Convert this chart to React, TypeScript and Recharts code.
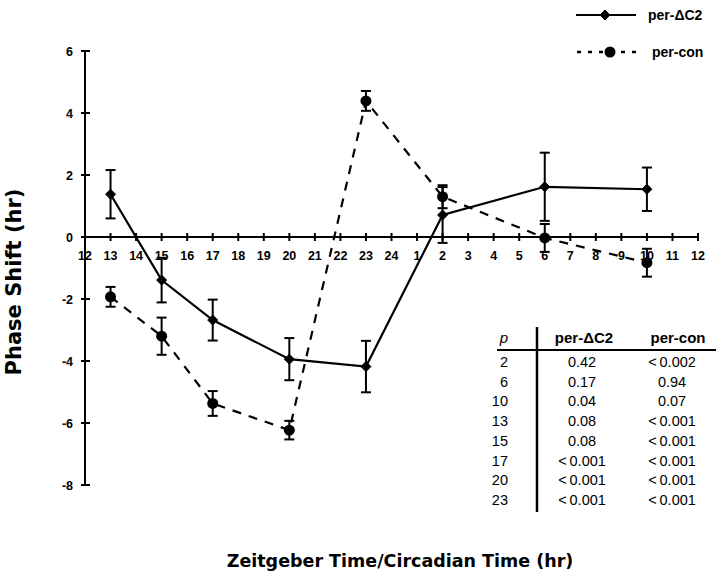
import React from 'react';
import { LineChart, Line, XAxis, YAxis, ErrorBar, ReferenceLine, ReferenceDot, Legend, Label } from 'recharts';

// ---- data ----
const timeLabels = ['13', '15', '17', '20', '23', '2', '6', '10'];
const timePositions = [1, 3, 5, 8, 11, 14, 18, 22];
const deltaC2 = [1.38, -1.39, -2.68, -3.94, -4.18, 0.71, 1.62, 1.54];
const deltaC2Err = [0.78, 0.72, 0.66, 0.68, 0.83, 0.9, 1.1, 0.7];
const perCon = [-1.93, -3.2, -5.37, -6.23, 4.39, 1.3, -0.03, -0.83];
const perConErr = [0.32, 0.6, 0.4, 0.3, 0.32, 0.37, 0.45, 0.45];

const xTickLabels = ['12', '13', '14', '15', '16', '17', '18', '19', '20', '21', '22', '23', '24', '1', '2', '3', '4', '5', '6', '7', '8', '9', '10', '11', '12'];
const yTicks = [-8, -6, -4, -2, 0, 2, 4, 6];

const seriesNames = ['per-\u0394C2', 'per-con'];

const tableTimes = ['2', '6', '10', '13', '15', '17', '20', '23'];
const LT = '<\u20090.001';
const tablePDelta = ['0.42', '0.17', '0.04', '0.08', '0.08', LT, LT, LT];
const tablePCon = ['<\u20090.002', '0.94', '0.07', LT, LT, LT, LT, LT];

const data = timePositions.map((pos, i) => ({
  pos,
  label: timeLabels[i],
  d: deltaC2[i],
  dErr: deltaC2Err[i],
  c: perCon[i],
  cErr: perConErr[i],
}));

const TICK_FONT = '"Liberation Sans", Arial, sans-serif';
const TITLE_FONT = '"DejaVu Sans", sans-serif';

const Diamond = ({ cx, cy, s = 5 }: any) => (
  <polygon points={`${cx},${cy - s} ${cx + s},${cy} ${cx},${cy + s} ${cx - s},${cy}`} fill="#000" stroke="#000" strokeWidth={1} />
);

const YTick = ({ x, y, payload }: any) => (
  <g>
    <line x1={x - 4} x2={x + 5} y1={y} y2={y} stroke="#000" strokeWidth={2} />
    <text x={x - 12} y={y} dy={4.5} textAnchor="end" fontFamily={TICK_FONT} fontWeight="bold" fontSize={12.5} fill="#000">
      {payload.value}
    </text>
  </g>
);

const XTickMark = ({ cx, cy, label }: any) => (
  <g>
    <line x1={cx} x2={cx} y1={cy - 4} y2={cy + 4} stroke="#000" strokeWidth={2} />
    <text x={cx} y={cy + 23} textAnchor="middle" fontFamily={TICK_FONT} fontWeight="bold" fontSize={12.5} fill="#000">
      {label}
    </text>
  </g>
);

const LegendContent = () => (
  <svg width={720} height={70} style={{ display: 'block' }}>
    <line x1={576} x2={636} y1={15} y2={15} stroke="#000" strokeWidth={2} />
    <Diamond cx={605} cy={15} s={5} />
    <text x={648} y={20} fontFamily={TICK_FONT} fontWeight="bold" fontSize={14} fill="#000">{seriesNames[0]}</text>
    <line x1={577} x2={642} y1={52} y2={52} stroke="#000" strokeWidth={2.5} strokeDasharray="4 7" />
    <circle cx={610} cy={52} r={5.5} fill="#000" />
    <text x={652} y={57} fontFamily={TICK_FONT} fontWeight="bold" fontSize={14} fill="#000">{seriesNames[1]}</text>
  </svg>
);

const PTable = () => {
  const rowY = (i: number) => 367 + i * 19.7;
  return (
    <svg width={720} height={581} style={{ position: 'absolute', left: 0, top: 0, pointerEvents: 'none' }}>
      <text x={508} y={343} textAnchor="end" fontFamily={TICK_FONT} fontStyle="italic" fontSize={15} fill="#000">p</text>
      <text x={584} y={343} textAnchor="middle" fontFamily={TICK_FONT} fontWeight="bold" fontSize={15} fill="#000">{seriesNames[0]}</text>
      <text x={678} y={343} textAnchor="middle" fontFamily={TICK_FONT} fontWeight="bold" fontSize={15} fill="#000">{seriesNames[1]}</text>
      <line x1={537} x2={537} y1={327} y2={512} stroke="#000" strokeWidth={2.5} />
      <line x1={497} x2={716} y1={350} y2={350} stroke="#000" strokeWidth={2} />
      {tableTimes.map((t, i) => (
        <g key={t}>
          <text x={508} y={rowY(i)} textAnchor="end" fontFamily={TICK_FONT} fontSize={14.5} fill="#000">{t}</text>
          <text x={582} y={rowY(i)} textAnchor="middle" fontFamily={TICK_FONT} fontSize={14.5} fill="#000">{tablePDelta[i]}</text>
          <text x={672} y={rowY(i)} textAnchor="middle" fontFamily={TICK_FONT} fontSize={14.5} fill="#000">{tablePCon[i]}</text>
        </g>
      ))}
    </svg>
  );
};

const YTitle = () => (
  <text transform="translate(21,282) rotate(-90)" textAnchor="middle" fontFamily={TITLE_FONT} fontWeight="bold" fontSize={21} fill="#000">
    Phase Shift (hr)
  </text>
);

const XTitle = () => (
  <text x={400} y={567} textAnchor="middle" fontFamily={TITLE_FONT} fontWeight="bold" fontSize={17.5} fill="#000">
    Zeitgeber Time/Circadian Time (hr)
  </text>
);

export default function App() {
  return (
    <div style={{ position: 'absolute', left: 0, top: 0, width: 720, height: 581, background: '#fff' }}>
      <LineChart width={720} height={581} data={data} margin={{ top: 51, right: 22, bottom: 0, left: 0 }}>
        <XAxis
          type="number"
          dataKey="pos"
          domain={[0, 24]}
          axisLine={false}
          tick={false}
          tickLine={false}
          height={96}
          label={<Label content={() => <XTitle />} />}
        />
        <YAxis
          type="number"
          domain={[-8, 6]}
          ticks={yTicks}
          width={85}
          tickSize={0}
          tickMargin={0}
          tickLine={false}
          axisLine={{ stroke: '#000', strokeWidth: 2 }}
          tick={<YTick />}
          label={<Label content={() => <YTitle />} />}
        />
        <ReferenceLine y={0} stroke="#000" strokeWidth={2} />
        {xTickLabels.map((lab, i) => (
          <ReferenceDot
            key={`xt${i}`}
            x={i}
            y={0}
            r={1}
            ifOverflow="visible"
            shape={(p: any) => <XTickMark cx={p.cx} cy={p.cy} label={lab} />}
          />
        ))}
        <Legend
          layout="vertical"
          align="center"
          verticalAlign="middle"
          content={<LegendContent />}
          wrapperStyle={{ position: 'absolute', left: 0, top: 0, width: 720, height: 70 }}
        />
        <Line
          type="linear"
          dataKey="d"
          name={seriesNames[0]}
          stroke="#000"
          strokeWidth={2.2}
          isAnimationActive={false}
          dot={(p: any) => <Diamond key={`d${p.index}`} cx={p.cx} cy={p.cy} s={5} />}
          activeDot={false}
        >
          <ErrorBar dataKey="dErr" width={5} stroke="#000" strokeWidth={2} direction="y" />
        </Line>
        <Line
          type="linear"
          dataKey="c"
          name={seriesNames[1]}
          stroke="#000"
          strokeWidth={2.2}
          strokeDasharray="9 8"
          isAnimationActive={false}
          dot={(p: any) => <circle key={`c${p.index}`} cx={p.cx} cy={p.cy} r={5.5} fill="#000" />}
          activeDot={false}
        >
          <ErrorBar dataKey="cErr" width={5} stroke="#000" strokeWidth={2} direction="y" />
        </Line>
      </LineChart>
      <PTable />
    </div>
  );
}
